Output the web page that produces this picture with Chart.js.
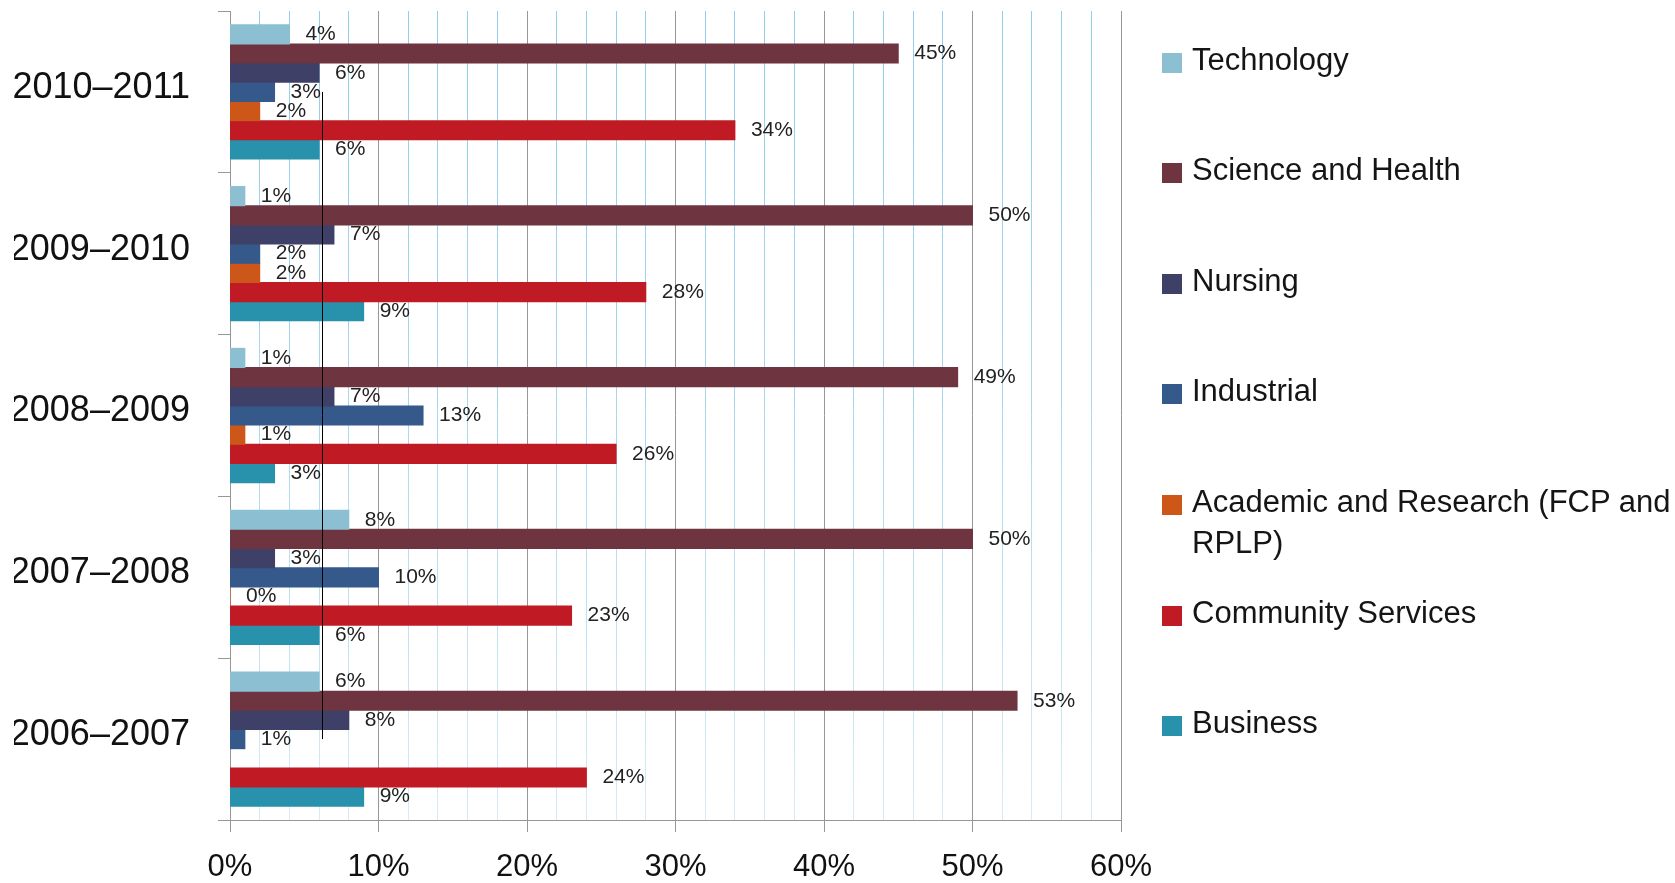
<!DOCTYPE html>
<html>
<head>
<meta charset="utf-8">
<script src="https://cdn.jsdelivr.net/npm/chart.js@4/dist/chart.umd.min.js"></script>
<style>
  html, body { margin: 0; padding: 0; background: #ffffff; }
  #wrap { position: relative; width: 1675px; height: 883px; overflow: hidden; }
  #chart { position: absolute; left: 0; top: 0; }
  .lg-box { position: absolute; width: 20px; height: 20px; }
  .lg-text { position: absolute; font-family: "Liberation Sans", Arial, sans-serif; font-size: 31px; line-height: 41px; color: #151515; width: 480px; white-space: normal; }
</style>
</head>
<body>
<div id="wrap">
  <canvas id="chart" width="1675" height="883"></canvas>
  <div id="legend"></div>
</div>
<script>
// ---- data ----
const categories = ['2010–2011', '2009–2010', '2008–2009', '2007–2008', '2006–2007'];
const seriesNames = ['Technology', 'Science and Health', 'Nursing', 'Industrial',
  'Academic and Research (FCP and RPLP)', 'Community Services', 'Business'];
const technology      = [4, 1, 1, 8, 6];
const scienceHealth   = [45, 50, 49, 50, 53];
const nursing         = [6, 7, 7, 3, 8];
const industrial      = [3, 2, 13, 10, 1];
const academic        = [2, 2, 1, 0, null];
const community       = [34, 28, 26, 23, 24];
const business        = [6, 9, 3, 6, 9];
const xTickValues     = [0, 10, 20, 30, 40, 50, 60];
const referenceLineValue = 6.2;            // stray vertical line in the source
const referenceLineSpan  = ['2010–2011', '2006–2007'];

const seriesColors = ['#8bbfd1', '#6e3440', '#3f4068', '#34598a', '#cd5619', '#c01b24', '#2891ab'];
const seriesValues = [technology, scienceHealth, nursing, industrial, academic, community, business];

// ---- chart ----
const MAJOR = '#979797';

const valueLabels = {
  id: 'valueLabels',
  afterDatasetsDraw(chart) {
    const ctx = chart.ctx;
    ctx.save();
    ctx.font = '21px "Liberation Sans", Arial, sans-serif';
    ctx.fillStyle = '#222222';
    ctx.textAlign = 'left';
    ctx.textBaseline = 'middle';
    chart.data.datasets.forEach((ds, di) => {
      const meta = chart.getDatasetMeta(di);
      meta.data.forEach((bar, i) => {
        const v = ds.data[i];
        if (v === null || v === undefined) return;
        ctx.fillText(v + '%', bar.x + 16, bar.y);
      });
    });
    // reference line
    const xs = chart.scales.x, ys = chart.scales.y;
    const x = Math.round(xs.getPixelForValue(referenceLineValue)) + 0.5;
    const y0 = ys.getPixelForValue(categories.indexOf(referenceLineSpan[0]));
    const y1 = ys.getPixelForValue(categories.indexOf(referenceLineSpan[1]));
    ctx.strokeStyle = '#000000';
    ctx.lineWidth = 1;
    ctx.beginPath();
    ctx.moveTo(x, y0);
    ctx.lineTo(x, y1);
    ctx.stroke();
    ctx.restore();
  }
};

let minorGradient = null;
function minorColor(c) {
  const area = c.chart.chartArea;
  if (!area) return '#bfe1f1';
  if (!minorGradient) {
    minorGradient = c.chart.ctx.createLinearGradient(0, area.top, 0, area.bottom);
    minorGradient.addColorStop(0, '#92cdea');
    minorGradient.addColorStop(0.5, '#a9d8ee');
    minorGradient.addColorStop(1, '#d6ebf6');
  }
  return minorGradient;
}

new Chart(document.getElementById('chart'), {
  type: 'bar',
  data: {
    labels: categories,
    datasets: seriesNames.map((name, i) => ({
      label: name,
      data: seriesValues[i],
      backgroundColor: seriesColors[i],
      borderWidth: 0,
      inflateAmount: 0.5,
      categoryPercentage: 0.83,
      barPercentage: 1.0
    }))
  },
  options: {
    indexAxis: 'y',
    responsive: false,
    devicePixelRatio: 1,
    animation: false,
    layout: { padding: { left: 14, top: 11, right: 554, bottom: 0 } },
    plugins: {
      legend: { display: false },
      tooltip: { enabled: false }
    },
    scales: {
      x: {
        type: 'linear',
        min: 0,
        max: 60,
        afterBuildTicks(scale) {
          const t = [];
          for (let v = scale.min; v <= scale.max; v += 2) t.push({ value: v });
          scale.ticks = t;
        },
        afterFit(scale) {
          scale.height = 63;
          scale.paddingLeft = 0;
          scale.paddingRight = 0;
        },
        ticks: {
          autoSkip: false,
          maxRotation: 0,
          padding: 17,
          color: '#111111',
          font: { family: '"Liberation Sans", Arial, sans-serif', size: 31 },
          callback: (v) => xTickValues.includes(v) ? v + '%' : ''
        },
        grid: {
          color: (c) => (c.tick && xTickValues.includes(c.tick.value)) ? MAJOR : minorColor(c),
          tickColor: (c) => (c.tick && xTickValues.includes(c.tick.value)) ? MAJOR : 'rgba(0,0,0,0)',
          lineWidth: 1,
          tickLength: 12,
          drawTicks: true
        },
        border: { display: true, color: MAJOR, width: 1 }
      },
      y: {
        afterFit(scale) {
          scale.width = 216;
          scale.paddingTop = 0;
          scale.paddingBottom = 0;
        },
        ticks: {
          autoSkip: false,
          padding: 28,
          labelOffset: -4,
          color: '#111111',
          font: { family: '"Liberation Sans", Arial, sans-serif', size: 36 }
        },
        grid: {
          drawOnChartArea: false,
          drawTicks: true,
          tickLength: 12,
          color: MAJOR,
          tickColor: MAJOR
        },
        border: { display: true, color: MAJOR, width: 1 }
      }
    }
  },
  plugins: [valueLabels]
});

// ---- legend (HTML, built from the series arrays) ----
const legend = document.getElementById('legend');
seriesNames.forEach((name, i) => {
  const c = 62.5 + i * 110.6;
  const box = document.createElement('div');
  box.className = 'lg-box';
  box.style.left = '1162px';
  box.style.top = (c - 10) + 'px';
  box.style.background = seriesColors[i];
  legend.appendChild(box);
  const txt = document.createElement('div');
  txt.className = 'lg-text';
  txt.style.left = '1192px';
  txt.style.top = (c - 24) + 'px';
  txt.textContent = name;
  legend.appendChild(txt);
});
</script>
</body>
</html>
